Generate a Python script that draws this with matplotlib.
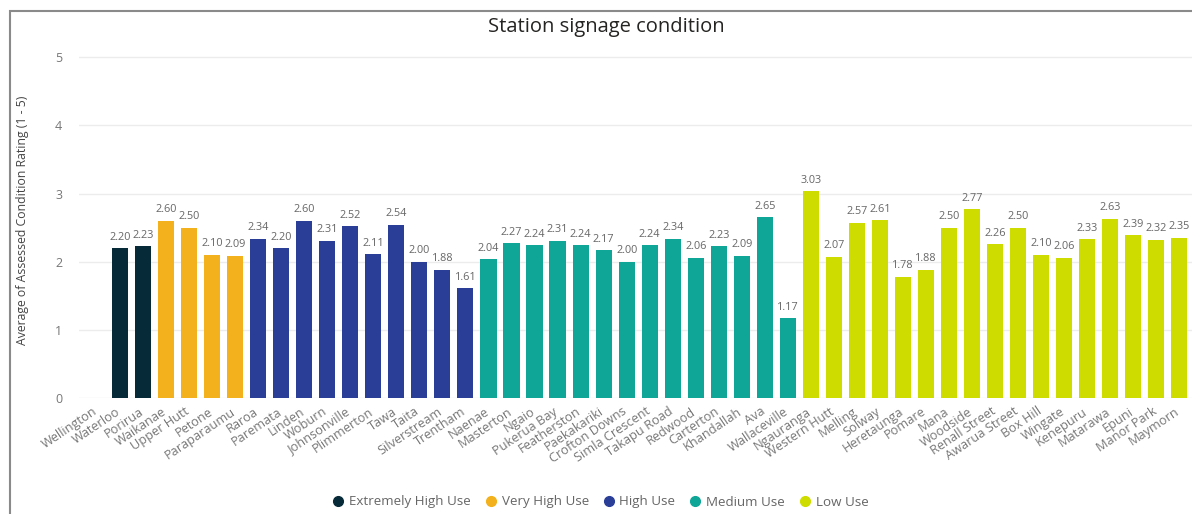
import numpy as np
import matplotlib
matplotlib.use("Agg")
import matplotlib.pyplot as plt
from matplotlib.lines import Line2D
from matplotlib.patches import Rectangle

plt.rcParams['font.family'] = ['Open Sans', 'DejaVu Sans']

# station data (Wellington has no assessed value)
stations = ["Wellington", "Waterloo", "Porirua", "Waikanae", "Upper Hutt", "Petone",
            "Paraparaumu", "Raroa", "Paremata", "Linden", "Woburn", "Johnsonville",
            "Plimmerton", "Tawa", "Taita", "Silverstream", "Trentham", "Naenae",
            "Masterton", "Ngaio", "Pukerua Bay", "Featherston", "Paekakariki",
            "Crofton Downs", "Simla Crescent", "Takapu Road", "Redwood", "Carterton",
            "Khandallah", "Ava", "Wallaceville", "Ngauranga", "Western Hutt", "Melling",
            "Solway", "Heretaunga", "Pomare", "Mana", "Woodside", "Renall Street",
            "Awarua Street", "Box Hill", "Wingate", "Kenepuru", "Matarawa", "Epuni",
            "Manor Park", "Maymorn"]
ratings = [np.nan, 2.20, 2.23, 2.60, 2.50, 2.10,
           2.09, 2.34, 2.20, 2.60, 2.31, 2.52,
           2.11, 2.54, 2.00, 1.88, 1.61, 2.04,
           2.27, 2.24, 2.31, 2.24, 2.17,
           2.00, 2.24, 2.34, 2.06, 2.23,
           2.09, 2.65, 1.17, 3.03, 2.07, 2.57,
           2.61, 1.78, 1.88, 2.50, 2.77, 2.26,
           2.50, 2.10, 2.06, 2.33, 2.63, 2.39,
           2.32, 2.35]
usage = (["Extremely High Use"] * 3 + ["Very High Use"] * 4 + ["High Use"] * 10
         + ["Medium Use"] * 14 + ["Low Use"] * 17)

usage_groups = ["Extremely High Use", "Very High Use", "High Use", "Medium Use", "Low Use"]
group_colors = ["#062a38", "#f2b11d", "#2a3e98", "#0fa597", "#cfdc00"]
color_map = dict(zip(usage_groups, group_colors))

fig = plt.figure(figsize=(11.92, 5.14), dpi=100)

# screenshot frame
fig.add_artist(Rectangle((10 / 1192, -0.1), 1.2, (514 - 11) / 514 + 0.1,
                         transform=fig.transFigure, fill=False,
                         edgecolor="#8a8a8a", lw=1.5))

ax = fig.add_axes([79 / 1192, (514 - 398) / 514, (1192 - 79) / 1192, (398 - 47) / 514])

x = np.arange(len(stations))
colors = [color_map[u] for u in usage]
ax.bar(x, ratings, width=0.7, color=colors, zorder=2)

for xi, v in zip(x, ratings):
    if np.isnan(v):
        continue
    ax.text(xi, v + 0.08, f"{v:.2f}", ha="center", va="bottom",
            fontsize=7.8, color="#666666")

ax.set_xlim(-0.78, len(stations) - 0.45)
ax.set_ylim(0, 5.15)
ax.set_yticks([0, 1, 2, 3, 4, 5])
ax.yaxis.grid(True, color="#ececec", lw=1, zorder=0)
ax.tick_params(axis="y", length=0, labelsize=9, labelcolor="#777777", pad=12)
ax.tick_params(axis="x", length=0)
for s in ax.spines.values():
    s.set_visible(False)

ax.set_xticks(x - 0.2)
ax.set_xticklabels(stations, rotation=34, ha="right", va="top",
                   rotation_mode="anchor", fontsize=9.2, color="#777777")
ax.tick_params(axis="x", pad=5)

fig.text(23 / 1192, (514 - 220) / 514, "Average of Assessed Condition Rating (1 - 5)",
         rotation=90, ha="center", va="center", fontsize=8.8, color="#444444")
fig.text(606 / 1192, (514 - 27) / 514, "Station signage condition",
         ha="center", va="center", fontsize=14.5, color="#252423")

handles = [Line2D([], [], marker="o", ls="", color=c, markersize=7) for c in group_colors]
fig.legend(handles, usage_groups, loc="center", bbox_to_anchor=(600 / 1192, (514 - 502) / 514),
           ncol=5, frameon=False, fontsize=9.6, labelcolor="#666666",
           handletextpad=0.3, columnspacing=1.0, handlelength=1.0)

fig.savefig("out.png", dpi=100)
